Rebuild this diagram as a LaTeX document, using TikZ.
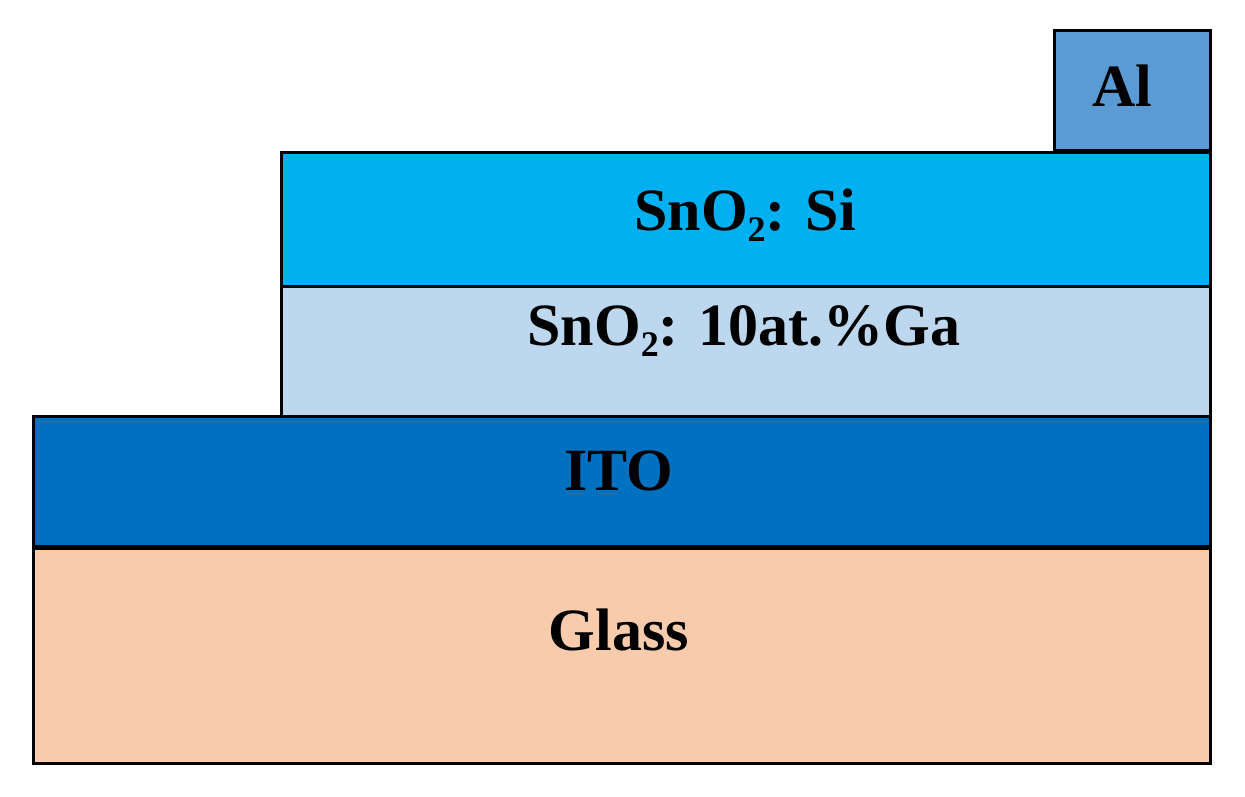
\documentclass[tikz,border=0pt]{standalone}
\usepackage{fontspec}
\setmainfont{Liberation Serif}
\definecolor{alc}{HTML}{5B9BD5}
\definecolor{sic}{HTML}{00B0F0}
\definecolor{gac}{HTML}{BDD7EE}
\definecolor{itoc}{HTML}{0070C0}
\definecolor{glc}{HTML}{F8CBAD}
\newcommand{\subtwo}{\raisebox{-11pt}{\fontsize{36}{36}\selectfont 2}}
\tikzset{
  layer/.style={draw=black,line width=3pt,line join=miter},
  lbl/.style={font=\bfseries\fontsize{60}{66}\selectfont,text=black,inner sep=0pt,anchor=base}
}
\begin{document}
\begin{tikzpicture}[x=1pt,y=-1pt]
\useasboundingbox (0,0) rectangle (1245,797);
\fill[white] (0,0) rectangle (1245,797);
\path[layer,fill=glc] (33,547) rectangle (1210,763);
\path[layer,fill=itoc] (33,416) rectangle (1210,547);
\path[layer,fill=gac] (281,286) rectangle (1210,416);
\path[layer,fill=sic] (281,153) rectangle (1210,286);
\path[layer,fill=alc] (1054,31) rectangle (1210,151);
\draw[black,line width=5pt] (33,547) -- (1210,547);
\node[lbl] (al) at (1122,107) {Al};
\node[lbl] (si) at (745,230) {SnO\subtwo: Si};
\node[lbl] (ga) at (744,345) {SnO\subtwo: 10at.\%Ga};
\node[lbl] (ito) at (619,490) {ITO};
\node[lbl] (gl) at (619,650) {Glass};
\end{tikzpicture}
\end{document}
